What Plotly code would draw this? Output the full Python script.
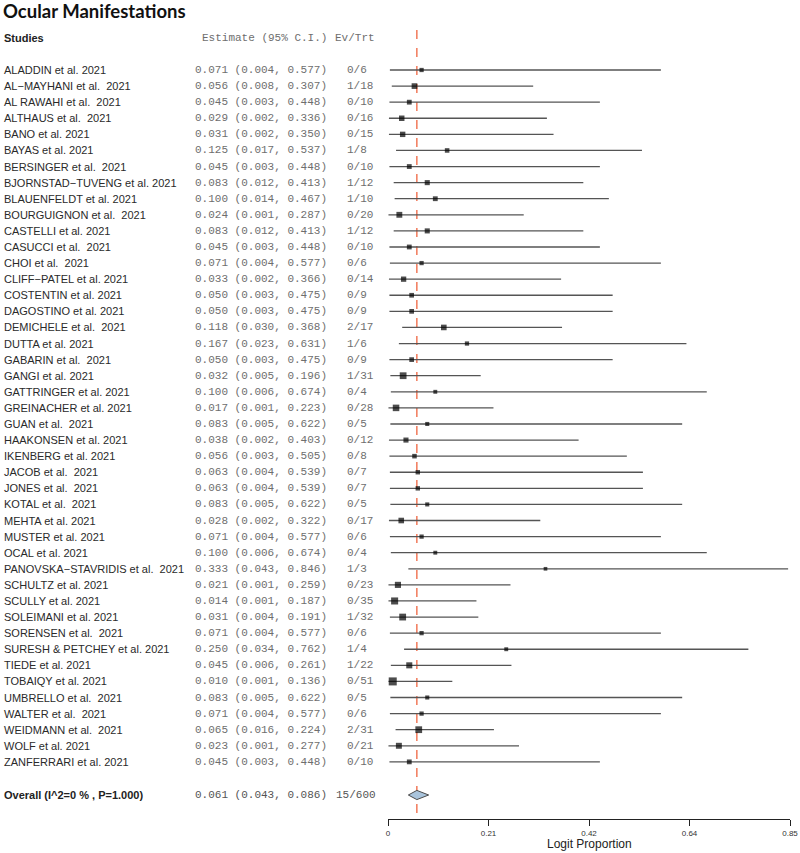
import plotly.graph_objects as go

# ---------------- data ----------------
studies = [
    "ALADDIN et al. 2021", "AL\u2212MAYHANI et al.  2021", "AL RAWAHI et al.  2021",
    "ALTHAUS et al.  2021", "BANO et al. 2021", "BAYAS et al. 2021",
    "BERSINGER et al.  2021", "BJORNSTAD\u2212TUVENG et al. 2021", "BLAUENFELDT et al. 2021",
    "BOURGUIGNON et al.  2021", "CASTELLI et al. 2021", "CASUCCI et al.  2021",
    "CHOI et al.  2021", "CLIFF\u2212PATEL et al. 2021", "COSTENTIN et al. 2021",
    "DAGOSTINO et al. 2021", "DEMICHELE et al.  2021", "DUTTA et al. 2021",
    "GABARIN et al.  2021", "GANGI et al. 2021", "GATTRINGER et al. 2021",
    "GREINACHER et al. 2021", "GUAN et al.  2021", "HAAKONSEN et al. 2021",
    "IKENBERG et al. 2021", "JACOB et al.  2021", "JONES et al.  2021",
    "KOTAL et al.  2021", "MEHTA et al. 2021", "MUSTER et al. 2021",
    "OCAL et al. 2021", "PANOVSKA\u2212STAVRIDIS et al.  2021", "SCHULTZ et al. 2021",
    "SCULLY et al. 2021", "SOLEIMANI et al. 2021", "SORENSEN et al.  2021",
    "SURESH & PETCHEY et al. 2021", "TIEDE et al. 2021", "TOBAIQY et al. 2021",
    "UMBRELLO et al.  2021", "WALTER et al.  2021", "WEIDMANN et al.  2021",
    "WOLF et al. 2021", "ZANFERRARI et al. 2021",
]
estimates = [0.071, 0.056, 0.045, 0.029, 0.031, 0.125, 0.045, 0.083, 0.100, 0.024,
             0.083, 0.045, 0.071, 0.033, 0.050, 0.050, 0.118, 0.167, 0.050, 0.032,
             0.100, 0.017, 0.083, 0.038, 0.056, 0.063, 0.063, 0.083, 0.028, 0.071,
             0.100, 0.333, 0.021, 0.014, 0.031, 0.071, 0.250, 0.045, 0.010, 0.083,
             0.071, 0.065, 0.023, 0.045]
lower = [0.004, 0.008, 0.003, 0.002, 0.002, 0.017, 0.003, 0.012, 0.014, 0.001,
         0.012, 0.003, 0.004, 0.002, 0.003, 0.003, 0.030, 0.023, 0.003, 0.005,
         0.006, 0.001, 0.005, 0.002, 0.003, 0.004, 0.004, 0.005, 0.002, 0.004,
         0.006, 0.043, 0.001, 0.001, 0.004, 0.004, 0.034, 0.006, 0.001, 0.005,
         0.004, 0.016, 0.001, 0.003]
upper = [0.577, 0.307, 0.448, 0.336, 0.350, 0.537, 0.448, 0.413, 0.467, 0.287,
         0.413, 0.448, 0.577, 0.366, 0.475, 0.475, 0.368, 0.631, 0.475, 0.196,
         0.674, 0.223, 0.622, 0.403, 0.505, 0.539, 0.539, 0.622, 0.322, 0.577,
         0.674, 0.846, 0.259, 0.187, 0.191, 0.577, 0.762, 0.261, 0.136, 0.622,
         0.577, 0.224, 0.277, 0.448]
events = [0, 1, 0, 0, 0, 1, 0, 1, 1, 0, 1, 0, 0, 0, 0, 0, 2, 1, 0, 1,
          0, 0, 0, 0, 0, 0, 0, 0, 0, 0, 0, 1, 0, 0, 1, 0, 1, 1, 0, 0,
          0, 2, 0, 0]
totals = [6, 18, 10, 16, 15, 8, 10, 12, 10, 20, 12, 10, 6, 14, 9, 9, 17, 6, 9, 31,
          4, 28, 5, 12, 8, 7, 7, 5, 17, 6, 4, 3, 23, 35, 32, 6, 4, 22, 51, 5,
          6, 31, 21, 10]

overall_label = "Overall (I^2=0 % , P=1.000)"
overall_est, overall_lo, overall_hi = 0.061, 0.043, 0.086
overall_events, overall_total = 15, 600

tick_vals = [0, 0.2125, 0.425, 0.6375, 0.85]
tick_labels = ["0", "0.21", "0.42", "0.64", "0.85"]

title_text = "Ocular Manifestations"
x_title = "Logit Proportion"

# ---------------- layout geometry ----------------
W, H = 800, 853
ROW0, ROWH = 70.0, 16.09
AXIS_PX = 819
X0_PX, X1_PX = 388, 790


def px2row(p):
    return (p - ROW0) / ROWH


def px2paper_y(p):
    return (AXIS_PX - p) / AXIS_PX


n = len(studies)
rows = list(range(n))
overall_row = px2row(795)

SANS = "Liberation Sans, Arial, sans-serif"
MONO = "Liberation Mono, Courier New, monospace"
NAME_C = "#2a2a2a"
NUM_C = "#6e6e6e"

fig = go.Figure()

# CI lines
xs, ys = [], []
for i in rows:
    xs += [lower[i], upper[i], None]
    ys += [i, i, None]
fig.add_trace(go.Scatter(x=xs, y=ys, mode="lines",
                         line=dict(color="#555555", width=1.3),
                         hoverinfo="skip", showlegend=False, cliponaxis=False))

# point estimates (box size by study size)
sizes = [2.3 + 0.8 * (t ** 0.5) for t in totals]
fig.add_trace(go.Scatter(x=estimates, y=rows, mode="markers",
                         marker=dict(symbol="square", size=sizes, color="#000000",
                                     line=dict(width=0)),
                         showlegend=False, cliponaxis=False))

# overall diamond
hh = 4.6 / ROWH
fig.add_trace(go.Scatter(
    x=[overall_lo, overall_est, overall_hi, overall_est, overall_lo],
    y=[overall_row, overall_row - hh, overall_row, overall_row + hh, overall_row],
    mode="lines", fill="toself", fillcolor="#A9C4DC",
    line=dict(color="#4a4a4a", width=1), showlegend=False, hoverinfo="skip"))

# dashed overall line
fig.add_shape(type="line", xref="x", yref="y",
              x0=overall_est, x1=overall_est, y0=px2row(30), y1=px2row(815),
              line=dict(color="#F0704E", width=1.4, dash="dash"), layer="below")

ann = []


def add_text(txt, xpx, yrow, font, color, size, bold=False, anchor="left"):
    t = txt.replace("  ", "\u00a0 ")
    if bold:
        t = "<b>" + t + "</b>"
    ann.append(dict(text=t, x=xpx / W, xref="paper", y=yrow, yref="y",
                    xanchor=anchor, yanchor="middle", showarrow=False,
                    font=dict(family=font, size=size, color=color)))


# title
ann.append(dict(text="<b>" + title_text + "</b>", x=1 / W, xref="paper",
                y=px2row(11), yref="y", xanchor="left", yanchor="middle",
                showarrow=False, font=dict(family="Lato, Open Sans, sans-serif",
                                           size=18.5, color="#111111")))
# headers
add_text("Studies", 2, px2row(38), SANS, "#222222", 11, bold=True)
add_text("Estimate (95% C.I.)", 200, px2row(38), MONO, NUM_C, 11)
add_text("Ev/Trt", 333, px2row(38), MONO, NUM_C, 11)

for i in rows:
    add_text(studies[i], 2, i, SANS, NAME_C, 11)
    add_text(f"{estimates[i]:.3f} ({lower[i]:.3f}, {upper[i]:.3f})", 193, i, MONO, NUM_C, 11)
    add_text(f"{events[i]}/{totals[i]}", 345, i, MONO, NUM_C, 11)

add_text(overall_label, 2, overall_row, SANS, "#222222", 11, bold=True)
add_text(f"{overall_est:.3f} ({overall_lo:.3f}, {overall_hi:.3f})", 193, overall_row,
         MONO, "#555555", 11)
add_text(f"{overall_events}/{overall_total}", 334, overall_row, MONO, "#555555", 11)

# axis title
ann.append(dict(text=x_title, x=(X0_PX + X1_PX) / 2 / W, xref="paper",
                y=px2paper_y(844), yref="paper", xanchor="center", yanchor="middle",
                showarrow=False, font=dict(family=SANS, size=12, color="#222222")))

fig.update_layout(
    width=W, height=H,
    margin=dict(l=0, r=0, t=0, b=H - AXIS_PX, pad=0),
    plot_bgcolor="white", paper_bgcolor="white",
    showlegend=False,
    annotations=ann,
    xaxis=dict(domain=[X0_PX / W, X1_PX / W], range=[0, 0.85],
               showgrid=False, zeroline=False, showline=True,
               linecolor="#222222", linewidth=1, ticks="outside", ticklen=6,
               tickwidth=1, tickcolor="#222222",
               tickvals=tick_vals, ticktext=tick_labels,
               tickfont=dict(family=SANS, size=8, color="#333333"),
               fixedrange=True, automargin=False),
    yaxis=dict(range=[px2row(AXIS_PX), px2row(0)], visible=False,
               showgrid=False, zeroline=False, fixedrange=True, automargin=False),
)

fig.write_html("out.html", config={"displayModeBar": False},
               post_script="document.body.style.margin='0px';document.body.style.overflow='hidden';")
